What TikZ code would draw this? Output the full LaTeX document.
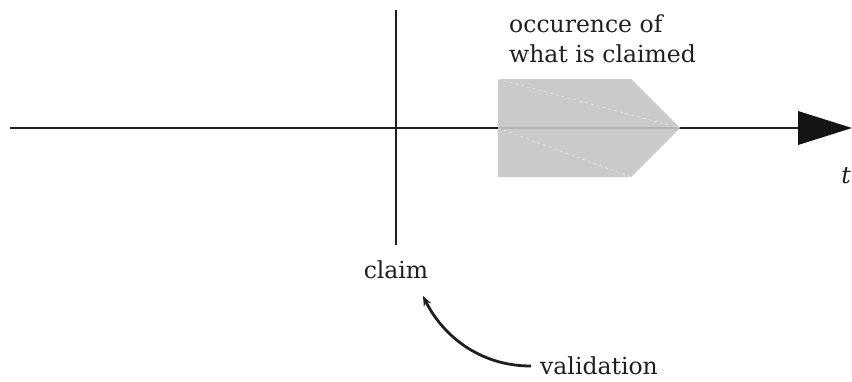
\documentclass[tikz,border=0pt]{standalone}
\usepackage{fontspec}
\setmainfont{DejaVu Serif}
\usetikzlibrary{arrows.meta}
\begin{document}
\begin{tikzpicture}[x=1pt,y=-1pt,
  lbl/.style={inner sep=0pt, font=\fontsize{23.5}{29}\selectfont, text=black!88},
  axis/.style={line width=2.8pt, black!88},
  occ/.style={fill=black!23, opacity=0.9},
  artifact/.style={white, opacity=0.6, line width=0.5pt, dashed}]
\useasboundingbox (0,0) rectangle (852,381);
% axes
\coordinate (axL) at (10,128);
\coordinate (axR) at (800,128);
\coordinate (tip) at (852,128);
\coordinate (vT) at (396,10);
\coordinate (vB) at (396,245);
\draw[axis] (axL) -- (axR);
\draw[axis] (vT) -- (vB);
\fill[black!92] (798,111) -- (tip) -- (798,145) -- cycle;
% occurrence shape
\coordinate (p1) at (498,79);
\coordinate (p2) at (631,79);
\coordinate (p3) at (680,128);
\coordinate (p4) at (631,177);
\coordinate (p5) at (498,177);
\coordinate (pm) at (498,128);
\fill[occ] (p1) -- (p2) -- (p3) -- (p4) -- (p5) -- cycle;
\draw[artifact] (p1) -- (p3);
\draw[artifact] (pm) -- (p4);
% labels
\node[lbl, anchor=base west] (occ1) at (509,32) {occurence of};
\node[lbl, anchor=base west] (occ2) at (509,62) {what is claimed};
\node[lbl, anchor=base] (t) at (846,183) {\textit{t}};
\node[lbl, anchor=base] (claim) at (396,278) {claim};
\node[lbl, anchor=base west] (valid) at (540,374) {validation};
% arrow
\coordinate (vs) at (531,366);
\coordinate (ve) at (423,296);
\draw[line width=2.8pt, black!88, -{Stealth[length=10pt,width=8pt]}] (vs)
  .. controls (478,366) and (442,334) .. (ve);
\end{tikzpicture}
\end{document}
